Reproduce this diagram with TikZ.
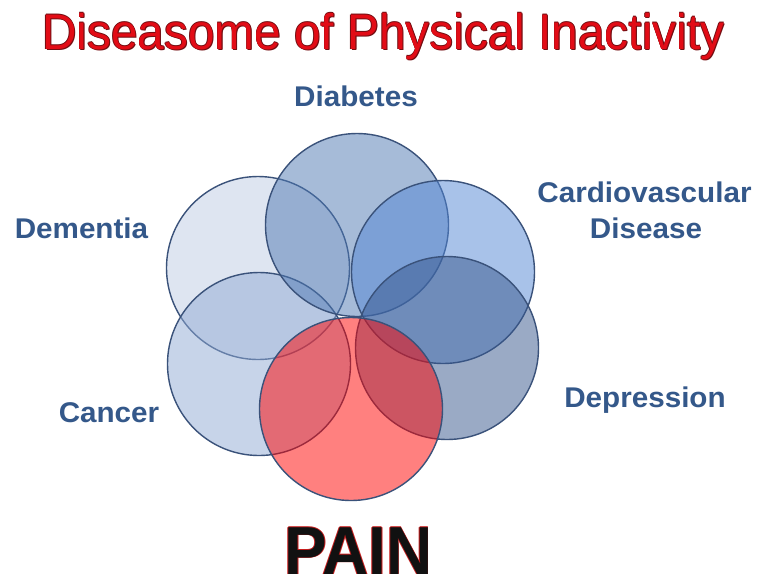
\documentclass[tikz,border=0pt]{standalone}
\usepackage{fontspec}
\setmainfont{Liberation Sans}
\definecolor{cDem}{RGB}{191,205,229}
\definecolor{cDia}{RGB}{79,121,179}
\definecolor{cCvd}{RGB}{83,135,213}
\definecolor{cDep}{RGB}{55,87,141}
\definecolor{cCan}{RGB}{145,171,213}
\definecolor{cPain}{RGB}{255,2,0}
\definecolor{edgec}{RGB}{58,82,122}
\definecolor{lblc}{RGB}{52,88,138}
\definecolor{titlered}{RGB}{226,12,22}
\definecolor{titledark}{RGB}{115,14,18}
\definecolor{painred}{RGB}{200,30,30}
\definecolor{painblack}{RGB}{17,17,17}
\tikzset{
  disc/.style={circle, draw=edgec, line width=1.4pt, minimum size=183pt, inner sep=0pt, fill opacity=0.5},
  lbl/.style={font=\fontsize{28.5}{30}\selectfont\bfseries, text=lblc, anchor=base, inner sep=0pt, xscale=1.04},
  titlef/.style={font=\fontsize{50}{52}\selectfont, anchor=base, inner sep=0pt, xscale=0.955},
  painf/.style={font=\fontsize{68}{70}\selectfont\bfseries, anchor=base, inner sep=0pt, xscale=0.94, text depth=0pt}
}
\begin{document}
\begin{tikzpicture}[x=1pt,y=-1pt]
\useasboundingbox[fill=white] (0,0) rectangle (759,582);
% title with thin dark outline
\foreach \dx/\dy [count=\i] in {-0.55/0,0.55/0,0/-0.55,0/0.55,0.9/1.0}
  \node[titlef, text=titledark, name=tsh\i] at (383.4+\dx,49+\dy) {Diseasome of Physical Inactivity};
\node[titlef, text=titlered] (title) at (383.4,49) {Diseasome of Physical Inactivity};
% circles
\node[disc, fill=cDem] (dem) at (258,268) {};
\node[disc, fill=cCan] (can) at (259,364) {};
\node[disc, fill=cDia] (dia) at (357,225) {};
\node[disc, fill=cCvd] (cvd) at (443,272) {};
\node[disc, fill=cDep] (dep) at (447,348) {};
\node[disc, fill=cPain] (pain) at (351,409) {};
% labels
\node[lbl] (ldia) at (356,106) {Diabetes};
\node[lbl] (ldem) at (81.5,238) {Dementia};
\node[lbl] (lcvd1) at (644.5,202) {Cardiovascular};
\node[lbl] (lcvd2) at (646,238) {Disease};
\node[lbl] (ldep) at (645,407) {Depression};
\node[lbl] (lcan) at (109,422) {Cancer};
% PAIN with thin red outline
\foreach \dx/\dy [count=\i] in {-0.6/0,0.6/0,0/-0.6,0/0.6}
  \node[painf, text=painred, name=psh\i] at (358.5+\dx,574+\dy) {PAIN};
\node[painf, text=painblack] (lpain) at (358.5,574) {PAIN};
\end{tikzpicture}
\end{document}
